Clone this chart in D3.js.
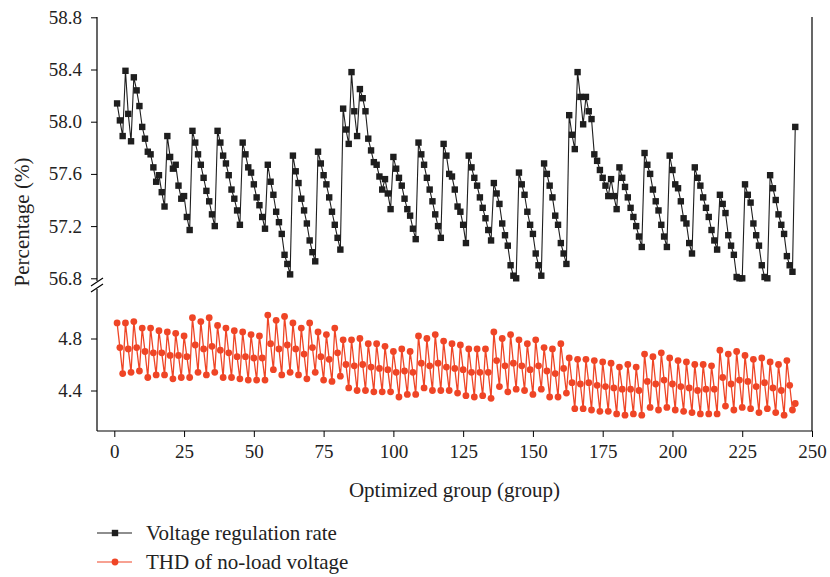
<!DOCTYPE html>
<html><head><meta charset="utf-8">
<script src="https://cdn.jsdelivr.net/npm/d3@7"></script>
<style>
body{margin:0;background:#fff;}
svg{display:block;font-family:"Liberation Serif","Times New Roman",serif;}
</style>
</head><body>
<svg id="chart" width="830" height="577"></svg>
<script>
const groupIds = d3.range(1, 245);
const voltageRegulation = [
58.14,58.01,57.89,58.39,58.06,57.85,58.34,58.24,58.12,
57.96,57.87,57.77,57.75,57.65,57.54,57.59,57.46,57.35,
57.89,57.73,57.64,57.67,57.51,57.41,57.43,57.27,57.17,
57.93,57.84,57.75,57.67,57.57,57.47,57.39,57.29,57.20,
57.93,57.84,57.74,57.68,57.59,57.48,57.41,57.32,57.21,
57.84,57.75,57.65,57.61,57.52,57.42,57.36,57.27,57.18,
57.67,57.54,57.44,57.31,57.23,57.14,56.98,56.91,56.83,
57.74,57.62,57.53,57.41,57.32,57.22,57.09,57.00,56.93,
57.77,57.68,57.59,57.52,57.42,57.31,57.21,57.11,57.02,
58.10,57.94,57.83,58.38,58.08,57.89,58.25,58.18,58.08,
57.87,57.78,57.69,57.67,57.58,57.48,57.56,57.45,57.33,
57.73,57.64,57.57,57.51,57.41,57.33,57.28,57.18,57.10,
57.84,57.75,57.67,57.57,57.48,57.39,57.29,57.20,57.11,
57.83,57.74,57.60,57.58,57.48,57.35,57.31,57.21,57.07,
57.74,57.65,57.57,57.51,57.42,57.34,57.26,57.17,57.09,
57.53,57.45,57.37,57.22,57.13,57.05,56.90,56.82,56.80,
57.61,57.52,57.44,57.31,57.21,57.14,56.99,56.90,56.82,
57.68,57.60,57.51,57.42,57.28,57.21,57.07,56.99,56.91,
58.05,57.90,57.79,58.38,58.19,57.98,58.19,58.08,58.02,
57.75,57.70,57.63,57.57,57.51,57.43,57.56,57.43,57.33,
57.65,57.57,57.50,57.42,57.34,57.27,57.20,57.12,57.04,
57.76,57.67,57.60,57.48,57.39,57.32,57.21,57.12,57.04,
57.74,57.63,57.52,57.49,57.39,57.26,57.22,57.07,56.99,
57.65,57.57,57.51,57.42,57.34,57.27,57.17,57.09,57.02,
57.44,57.37,57.30,57.13,57.05,56.98,56.81,56.80,56.80,
57.52,57.44,57.38,57.22,57.13,57.05,56.90,56.81,56.80,
57.59,57.49,57.40,57.29,57.21,57.14,56.97,56.90,56.85,
57.96];
const thdNoLoad = [
4.92,4.73,4.53,4.92,4.72,4.54,4.93,4.73,4.55,
4.88,4.70,4.50,4.88,4.69,4.52,4.86,4.69,4.52,
4.85,4.67,4.49,4.84,4.67,4.50,4.82,4.66,4.50,
4.96,4.75,4.54,4.93,4.72,4.52,4.96,4.74,4.54,
4.90,4.71,4.50,4.88,4.69,4.50,4.86,4.66,4.49,
4.85,4.66,4.48,4.83,4.65,4.48,4.82,4.65,4.48,
4.98,4.76,4.56,4.94,4.72,4.52,4.97,4.75,4.54,
4.92,4.72,4.52,4.88,4.68,4.49,4.92,4.73,4.54,
4.85,4.66,4.48,4.83,4.64,4.47,4.88,4.69,4.51,
4.79,4.60,4.42,4.79,4.59,4.40,4.80,4.60,4.40,
4.76,4.58,4.39,4.76,4.57,4.39,4.74,4.56,4.39,
4.70,4.54,4.35,4.72,4.55,4.37,4.70,4.54,4.37,
4.82,4.61,4.42,4.80,4.59,4.40,4.83,4.61,4.40,
4.78,4.58,4.40,4.76,4.57,4.38,4.75,4.56,4.36,
4.72,4.54,4.35,4.72,4.54,4.36,4.72,4.54,4.34,
4.85,4.63,4.43,4.80,4.59,4.39,4.83,4.61,4.41,
4.79,4.59,4.40,4.76,4.56,4.37,4.79,4.59,4.41,
4.73,4.55,4.35,4.72,4.53,4.35,4.76,4.57,4.38,
4.65,4.46,4.26,4.64,4.45,4.26,4.64,4.46,4.25,
4.63,4.44,4.24,4.62,4.43,4.24,4.61,4.42,4.22,
4.58,4.41,4.21,4.60,4.41,4.22,4.58,4.40,4.21,
4.68,4.47,4.27,4.66,4.45,4.25,4.69,4.48,4.27,
4.65,4.45,4.25,4.63,4.43,4.24,4.62,4.42,4.23,
4.60,4.40,4.22,4.60,4.41,4.22,4.59,4.41,4.22,
4.71,4.50,4.28,4.68,4.45,4.25,4.70,4.48,4.27,
4.67,4.47,4.26,4.64,4.43,4.23,4.65,4.46,4.26,
4.62,4.42,4.23,4.60,4.40,4.21,4.63,4.44,4.25,
4.30];
const xTickValues = [0,25,50,75,100,125,150,175,200,225,250];
const upperTickValues = [56.8,57.2,57.6,58.0,58.4,58.8];
const lowerTickValues = [4.4,4.8];
const seriesNames = ["Voltage regulation rate","THD of no-load voltage"];
const seriesColors = ["#1e1e1e","#ef4526"];

const svg = d3.select("#chart");
const L = 97, R = 812, T = 17, B = 431;
const x = d3.scaleLinear().domain([-6.2, 250]).range([L, R]);
const yU = d3.scaleLinear().domain([56.8, 58.8]).range([278.3, 17.3]);
const yL = d3.scaleLinear().domain([4.4, 4.8]).range([390.5, 338.5]);

const fmt = d3.format(".1f");
function styleAxis(g){
  g.select(".domain").remove();
  g.selectAll(".tick line").attr("stroke","#000").attr("stroke-width",1);
  g.selectAll(".tick text").attr("font-family","Liberation Serif, serif").attr("font-size",19).attr("fill","#222");
}
svg.append("g").attr("transform",`translate(${L},0)`)
  .call(d3.axisLeft(yU).tickValues(upperTickValues).tickFormat(fmt).tickSize(6).tickPadding(9))
  .call(styleAxis);
svg.append("g").attr("transform",`translate(${L},0)`)
  .call(d3.axisLeft(yL).tickValues(lowerTickValues).tickFormat(fmt).tickSize(6).tickPadding(9))
  .call(styleAxis);
svg.append("g").attr("transform",`translate(0,${B})`)
  .call(d3.axisBottom(x).tickValues(xTickValues).tickFormat(d3.format("d")).tickSize(6).tickPadding(8))
  .call(styleAxis);

// frame lines
const frame = svg.append("g").attr("stroke","#000").attr("stroke-width",1.2).attr("fill","none");
frame.append("line").attr("x1",L).attr("x2",L).attr("y1",T).attr("y2",281);
frame.append("line").attr("x1",L).attr("x2",L).attr("y1",289).attr("y2",B);
frame.append("line").attr("x1",L).attr("x2",R).attr("y1",B).attr("y2",B);
frame.append("line").attr("x1",R).attr("x2",R).attr("y1",T).attr("y2",B);
// break marks
frame.append("line").attr("x1",L-6).attr("y1",286).attr("x2",L+6).attr("y2",278);
frame.append("line").attr("x1",L-6).attr("y1",292).attr("x2",L+6).attr("y2",284);

// series
const vr = groupIds.map((g,i)=>({g, v: voltageRegulation[i]}));
const th = groupIds.map((g,i)=>({g, v: thdNoLoad[i]}));

svg.append("path").datum(th)
  .attr("fill","none").attr("stroke",seriesColors[1]).attr("stroke-width",1.3)
  .attr("d", d3.line().x(d=>x(d.g)).y(d=>yL(d.v)));
svg.append("g").selectAll("circle").data(th).join("circle")
  .attr("cx",d=>x(d.g)).attr("cy",d=>yL(d.v)).attr("r",3.4).attr("fill",seriesColors[1]);

svg.append("path").datum(vr)
  .attr("fill","none").attr("stroke",seriesColors[0]).attr("stroke-width",1.1)
  .attr("d", d3.line().x(d=>x(d.g)).y(d=>yU(d.v)));
svg.append("g").selectAll("rect").data(vr).join("rect")
  .attr("x",d=>x(d.g)-3.2).attr("y",d=>yU(d.v)-3.2).attr("width",6.4).attr("height",6.4)
  .attr("fill",seriesColors[0]);

// axis titles
svg.append("text").attr("x",(L+R)/2).attr("y",497).attr("text-anchor","middle")
  .attr("font-size",21).attr("fill","#222").text("Optimized group (group)");
svg.append("text").attr("transform","translate(29,222) rotate(-90)").attr("text-anchor","middle")
  .attr("font-size",21).attr("fill","#222").text("Percentage (%)");

// legend
const legY = [533, 562];
seriesNames.forEach((name,i)=>{
  const g = svg.append("g");
  g.append("line").attr("x1",97).attr("x2",132).attr("y1",legY[i]).attr("y2",legY[i])
    .attr("stroke",seriesColors[i]).attr("stroke-width",1.2);
  if(i===0){
    g.append("rect").attr("x",115-3.2).attr("y",legY[i]-3.2).attr("width",6.4).attr("height",6.4).attr("fill",seriesColors[i]);
  } else {
    g.append("circle").attr("cx",115).attr("cy",legY[i]).attr("r",3.4).attr("fill",seriesColors[i]);
  }
  g.append("text").attr("x",146).attr("y",legY[i]+6.5).attr("font-size",21).attr("fill","#222").text(name);
});
</script>
</body></html>
